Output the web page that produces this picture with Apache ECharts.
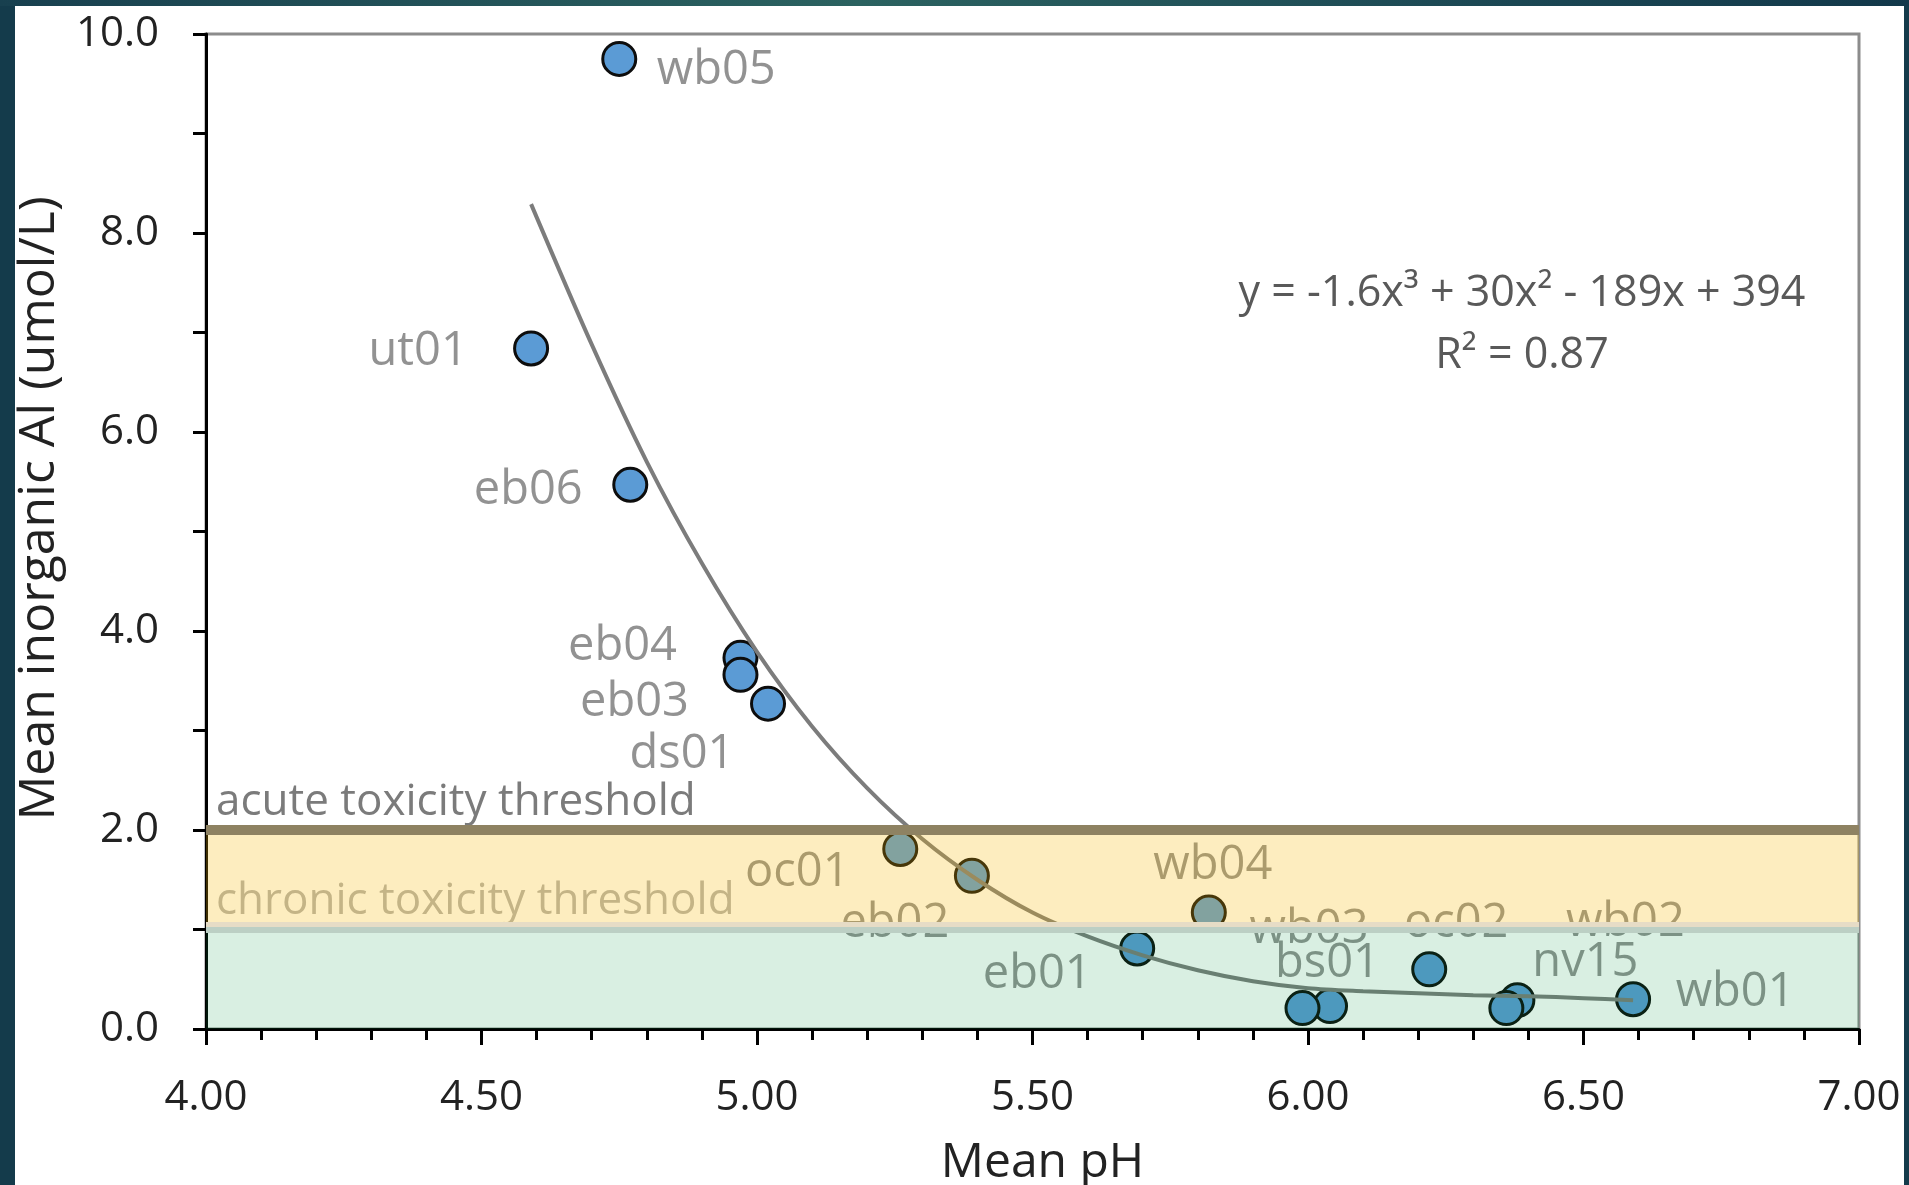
<!DOCTYPE html>
<html>
<head>
<meta charset="utf-8">
<title>Mean inorganic Al vs mean pH</title>
<script src="https://cdn.jsdelivr.net/npm/echarts@6/dist/echarts.min.js"></script>
<style>
  html, body { margin: 0; padding: 0; width: 1909px; height: 1185px; overflow: hidden; background: #143b4b; }
  #topband { position: absolute; left: 0; top: 0; width: 1909px; height: 6px;
             background: linear-gradient(90deg, #18404f 0%, #2b6260 45%, #1d4a55 75%, #12384a 100%); }
  #chart { position: absolute; left: 15px; top: 6px; width: 1889px; height: 1179px; background: #fff; }
</style>
</head>
<body>
<div id="topband"></div>
<div id="chart"></div>
<script>
// Site means (drawing order matters where markers overlap)
const siteNames = ['wb05', 'ut01', 'eb06', 'eb04', 'eb03', 'ds01', 'oc01', 'eb02',
                   'eb01', 'wb04', 'wb03', 'bs01', 'oc02', 'nv15', 'wb02', 'wb01'];
const phValues  = [4.75, 4.59, 4.77, 4.97, 4.97, 5.02, 5.26, 5.39,
                   5.69, 5.82, 6.04, 5.99, 6.22, 6.38, 6.36, 6.59];
const alValues  = [9.75, 6.84, 5.47, 3.73, 3.56, 3.27, 1.81, 1.54,
                   0.81, 1.17, 0.23, 0.21, 0.60, 0.29, 0.21, 0.30];

// Polynomial trend line
const fitPh = [4.59, 4.70, 4.80, 4.90, 5.00, 5.10, 5.20, 5.30, 5.40, 5.50, 5.60,
               5.70, 5.80, 5.90, 6.00, 6.10, 6.20, 6.30, 6.40, 6.50, 6.59];
const fitAl = [8.29, 6.88, 5.70, 4.68, 3.79, 3.04, 2.42, 1.91, 1.50, 1.17, 0.93,
               0.74, 0.59, 0.48, 0.41, 0.38, 0.36, 0.34, 0.33, 0.31, 0.29];

// Toxicity thresholds (umol/L)
const acuteLevel = 2.0;
const chronicLevel = 1.0;

// Axis ranges
const xMin = 4, xMax = 7, xStep = 0.5;
const yMin = 0, yMax = 10, yStep = 2;

const fitEquation = 'y = -1.6x\u00B3 + 30x\u00B2 - 189x + 394';
const fitR2 = 'R\u00B2 = 0.87';

// Label placement (pixel offsets from marker centre), like hand-dragged Excel labels
const labelOffsets = {
    wb05: [97, 12], ut01: [-113, 3], eb06: [-102, 6], eb04: [-118, -11],
    eb03: [-106, 28], ds01: [-86, 51], oc01: [-103, 24], eb02: [-77, 48],
    eb01: [-100, 26], wb04: [4, -47], wb03: [-21, -77], bs01: [25, -44],
    oc02: [27, -46], nv15: [68, -38], wb02: [119, -85], wb01: [102, -7]
};

const FONT = "'Open Sans', sans-serif";
const TICK_COLOR = '#000';

const scatterData = siteNames.map((name, i) => ({
    name: name,
    value: [phValues[i], alValues[i]],
    label: { offset: labelOffsets[name] }
}));

const fitData = fitPh.map((x, i) => [x, fitAl[i]]);

const chart = echarts.init(document.getElementById('chart'), null, { renderer: 'canvas' });

chart.setOption({
    animation: false,
    grid: {
        left: 191, right: 45, top: 28, bottom: 156,
        containLabel: false, outerBoundsMode: 'none',
        show: true, borderColor: '#8c8c8c', borderWidth: 3, backgroundColor: 'transparent'
    },
    xAxis: {
        type: 'value', min: xMin, max: xMax, interval: xStep,
        name: 'Mean pH', nameLocation: 'middle', nameGap: 110,
        nameTextStyle: { color: '#222', fontSize: 48, fontFamily: FONT, padding: [0, 0, 0, 20] },
        axisLine: { show: true, onZero: false, lineStyle: { color: TICK_COLOR, width: 3 } },
        axisTick: { show: true, length: 16, lineStyle: { color: TICK_COLOR, width: 3 } },
        minorTick: { show: true, splitNumber: 5, length: 11, lineStyle: { color: TICK_COLOR, width: 3 } },
        axisLabel: { color: '#222', fontSize: 42, fontFamily: FONT, margin: 48, formatter: v => v.toFixed(2) },
        splitLine: { show: false }
    },
    yAxis: {
        type: 'value', min: yMin, max: yMax, interval: yStep,
        name: 'Mean inorganic Al (umol/L)', nameLocation: 'middle', nameGap: 138,
        nameTextStyle: { color: '#222', fontSize: 50, fontFamily: FONT, padding: [0, 0, 0, 46] },
        axisLine: { show: true, onZero: false, lineStyle: { color: TICK_COLOR, width: 3 } },
        axisTick: { show: true, length: 13, lineStyle: { color: TICK_COLOR, width: 3 } },
        minorTick: { show: true, splitNumber: 2, length: 13, lineStyle: { color: TICK_COLOR, width: 3 } },
        axisLabel: { color: '#222', fontSize: 42, fontFamily: FONT, margin: 47, formatter: v => v.toFixed(1) },
        splitLine: { show: false }
    },
    graphic: [
        {
            type: 'text', x: 1507, y: 288, z: 10,
            style: { text: fitEquation, fill: '#595959', font: '43px ' + FONT, align: 'center', verticalAlign: 'middle' }
        },
        {
            type: 'text', x: 1507, y: 350, z: 10,
            style: { text: fitR2, fill: '#595959', font: '43px ' + FONT, align: 'center', verticalAlign: 'middle' }
        }
    ],
    series: [
        {
            name: 'sites',
            type: 'scatter',
            z: 2,
            data: scatterData,
            symbol: 'circle',
            symbolSize: 33,
            itemStyle: { color: '#5b9bd5', borderColor: '#0d0d0d', borderWidth: 3, opacity: 1 },
            label: {
                show: true, position: 'inside', formatter: '{b}',
                color: '#929292', fontSize: 47, fontFamily: FONT
            },
            emphasis: { disabled: true }
        },
        {
            name: 'fit',
            type: 'line',
            z: 3,
            data: fitData,
            showSymbol: false,
            smooth: 0.3,
            lineStyle: { color: '#7c7c7c', width: 4 },
            emphasis: { disabled: true }
        },
        {
            // threshold captions, kept below the band tint
            name: 'threshold-labels',
            type: 'line',
            data: [],
            markLine: {
                z: 4,
                silent: true, symbol: 'none',
                lineStyle: { width: 0, color: 'rgba(0,0,0,0)' },
                label: { show: true, position: 'insideStartTop', distance: [10, 6], fontSize: 44, fontFamily: FONT },
                data: [
                    { yAxis: acuteLevel, label: { formatter: 'acute toxicity threshold', color: '#7b7b7b' } },
                    { yAxis: chronicLevel, label: { formatter: 'chronic toxicity threshold', color: '#b3b3b3' } }
                ]
            }
        },
        {
            // translucent toxicity bands drawn over markers, trend line and captions
            name: 'bands',
            type: 'line',
            data: [],
            markArea: {
                z: 5,
                silent: true,
                data: [
                    [{ yAxis: yMin, itemStyle: { color: 'rgba(0,150,60,0.15)' } }, { yAxis: chronicLevel }],
                    [{ yAxis: chronicLevel, itemStyle: { color: 'rgba(248,184,0,0.25)' } }, { yAxis: acuteLevel }]
                ]
            }
        },
        {
            name: 'threshold-lines',
            type: 'line',
            data: [],
            markLine: {
                z: 6,
                silent: true, symbol: 'none', label: { show: false },
                data: [
                    { yAxis: acuteLevel, lineStyle: { color: '#8e8262', width: 10, type: 'solid' } },
                    {
                        yAxis: chronicLevel,
                        lineStyle: {
                            color: '#bccfc4', width: 6, type: 'solid',
                            shadowColor: '#e6dcc6', shadowOffsetY: -5, shadowBlur: 0
                        }
                    }
                ]
            }
        }
    ]
});
</script>
</body>
</html>
